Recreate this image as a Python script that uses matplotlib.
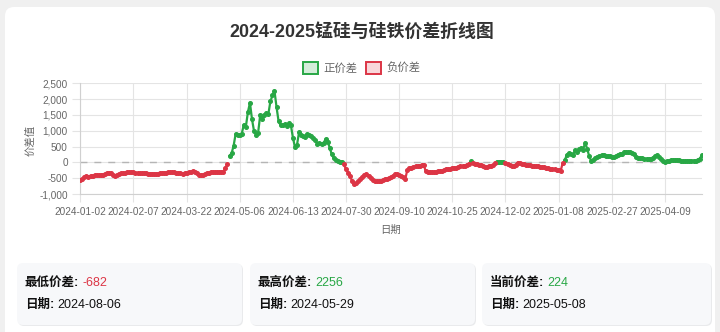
import numpy as np
import matplotlib
matplotlib.use("Agg")
import matplotlib.pyplot as plt
from matplotlib.patches import FancyBboxPatch, Rectangle

plt.rcParams['font.family'] = ['Liberation Sans', 'Noto Sans CJK SC', 'DejaVu Sans']

# daily spread (manganese silicon minus ferrosilicon)
spread = [
    -548, -520, -470, -440, -455, -420, -430, -405, -395, -410,
    -400, -385, -370, -345, -330, -350, -395, -430, -390, -360,
    -350, -345, -330, -320, -315, -310, -320, -330, -335, -340,
    -348, -345, -350, -355, -360, -352, -358, -365, -360, -350,
    -340, -335, -327, -320, -315, -310, -320, -325, -330, -335,
    -360, -345, -330, -310, -295, -285, -290, -330, -400, -415,
    -400, -375, -350, -325, -315, -310, -305, -300, -302, -298,
    -292, -180, -50, 210, 283, 524, 900, 860, 880, 911,
    1193, 1130, 1592, 1884, 1363, 986, 880, 942, 1488, 1382,
    1488, 1570, 1530, 1928, 2116, 2256, 1749, 1300, 1174, 1180,
    1210, 1150, 1232, 1180, 786, 487, 551, 945, 870, 840,
    806, 900, 850, 820, 786, 700, 596, 600, 590, 610,
    732, 659, 468, 255, 130, 80, 45, 15, 25, -64,
    -223, -330, -436, -600, -682, -650, -600, -541, -450, -390,
    -382, -436, -500, -573, -590, -600, -595, -580, -560, -530,
    -510, -500, -468, -420, -382, -372, -395, -417, -470, -522,
    -234, -180, -165, -157, -128, -120, -100, -80, -74, -288,
    -295, -300, -305, -308, -290, -283, -275, -266, -240, -210,
    -215, -207, -180, -175, -165, -150, -128, -130, -100, -74,
    -40, 32, -20, -51, -60, -80, -96, -100, -140, -160,
    -130, -110, -96, -20, 20, 25, 15, 10, -20, -60,
    -80, -110, -126, -70, -5, -20, -40, -52, -72, -80,
    -95, -104, -110, -120, -126, -135, -145, -157, -176, -190,
    -200, -210, -220, -229, -240, -270, -20, 60, 242, 290,
    260, 220, 377, 330, 430, 452, 400, 628, 420, 188,
    31, 85, 138, 180, 210, 230, 242, 210, 200, 188,
    169, 180, 188, 242, 260, 273, 314, 320, 326, 314,
    295, 273, 157, 138, 130, 138, 107, 110, 116, 107,
    150, 188, 220, 157, 107, 40, 13, 30, 53, 63,
    70, 80, 85, 60, 40, 31, 40, 50, 53, 50,
    53, 55, 85, 107, 224,
]

# every 26th trading day is labelled on the x axis
tick_dates = ['2024-01-02', '2024-02-07', '2024-03-22', '2024-05-06', '2024-06-13',
              '2024-07-30', '2024-09-10', '2024-10-25', '2024-12-02', '2025-01-08',
              '2025-02-27', '2025-04-09']
tick_step = 26

stat_labels = ['最低价差', '最高价差', '当前价差']
stat_values = ['-682', '2256', '224']
stat_dates = ['2024-08-06', '2024-05-29', '2025-05-08']

GREEN = '#28a745'
RED = '#dc3545'
W, H = 720, 332

fig = plt.figure(figsize=(W / 100, H / 100), dpi=100, facecolor='#f0f0f0')

# background layer in pixel coordinates
bg = fig.add_axes([0, 0, 1, 1], zorder=0)
bg.set_xlim(0, W)
bg.set_ylim(H, 0)
bg.axis('off')
bg.add_patch(FancyBboxPatch((5, 7), 710, 345, boxstyle='round,pad=0,rounding_size=9',
                            fc='white', ec='none'))

bg.text(362, 32, '2024-2025锰硅与硅铁价差折线图', ha='center', va='center',
        fontsize=12.9, fontweight='bold', color='#333333')

# legend
for x0, label, edge, fill in [(303, '正价差', GREEN, '#d4edda'), (366, '负价差', RED, '#f8d7da')]:
    bg.add_patch(Rectangle((x0, 62), 15, 12, fc=fill, ec=edge, lw=1.4))
    bg.text(x0 + 20, 68.5, label, ha='left', va='center', fontsize=8.2, color='#666666')

# stat cards
box_x = [17, 250, 482]
box_w = [225, 225, 229]
value_colors = [RED, GREEN, GREEN]
for i in range(3):
    bg.add_patch(FancyBboxPatch((box_x[i] + 1, 264), box_w[i], 62,
                                boxstyle='round,pad=0,rounding_size=6', fc='#e9eaec', ec='none'))
    bg.add_patch(FancyBboxPatch((box_x[i], 263), box_w[i], 62,
                                boxstyle='round,pad=0,rounding_size=6', fc='#f7f8fa', ec='none'))
    t1 = bg.text(box_x[i] + 8, 283, stat_labels[i] + ':', ha='left', va='center',
                 fontsize=9, fontweight='bold', color='#111111')
    bg.annotate(stat_values[i], xy=(1, 0), xycoords=t1, xytext=(2, 0), textcoords='offset points',
                ha='left', va='bottom', fontsize=9, color=value_colors[i])
    t2 = bg.text(box_x[i] + 8, 305, '日期:', ha='left', va='center',
                 fontsize=9, fontweight='bold', color='#111111')
    bg.annotate(stat_dates[i], xy=(1, 0), xycoords=t2, xytext=(2, 0), textcoords='offset points',
                ha='left', va='bottom', fontsize=9, color='#111111')

# chart
ax = fig.add_axes([80.3 / W, 1 - 194 / H, (701.7 - 80.3) / W, (194 - 83.3) / H], zorder=1)
ax.set_facecolor('none')

y = np.array(spread, dtype=float)
x = np.arange(len(y))
pos = np.where(y >= 0, y, np.nan)
neg = np.where(y < 0, y, np.nan)

ax.axhline(0, color='#b5b5b5', lw=1, ls=(0, (5, 5)), zorder=2)
ax.plot(x, pos, color=GREEN, lw=1.6, marker='o', ms=2.6, zorder=3)
ax.plot(x, neg, color=RED, lw=1.6, marker='o', ms=2.6, zorder=3)

ax.set_xlim(0, len(y) - 1)
ax.set_ylim(-1000, 2500)
yt = list(range(-1000, 2501, 500))
ax.set_yticks(yt)
ax.set_yticklabels([f'{v:,}' for v in yt])
ax.set_xticks(range(0, len(y), tick_step)[:len(tick_dates)])
ax.set_xticklabels(tick_dates)

ax.grid(True, color='#e4e4e4', lw=0.8)
ax.set_axisbelow(True)
ax.tick_params(length=6, color='#e4e4e4', labelsize=7.2, labelcolor='#666666', pad=3)
for side in ['top', 'right']:
    ax.spines[side].set_visible(False)
for side in ['left', 'bottom']:
    ax.spines[side].set_color('#d0d0d0')
    ax.spines[side].set_linewidth(0.8)

bg.text(30, 140, '价差值', rotation=90, ha='center', va='center', fontsize=7.5, color='#666666')
bg.text(391, 230, '日期', ha='center', va='center', fontsize=7.5, color='#666666')

fig.savefig('out.png', dpi=100, facecolor=fig.get_facecolor())
